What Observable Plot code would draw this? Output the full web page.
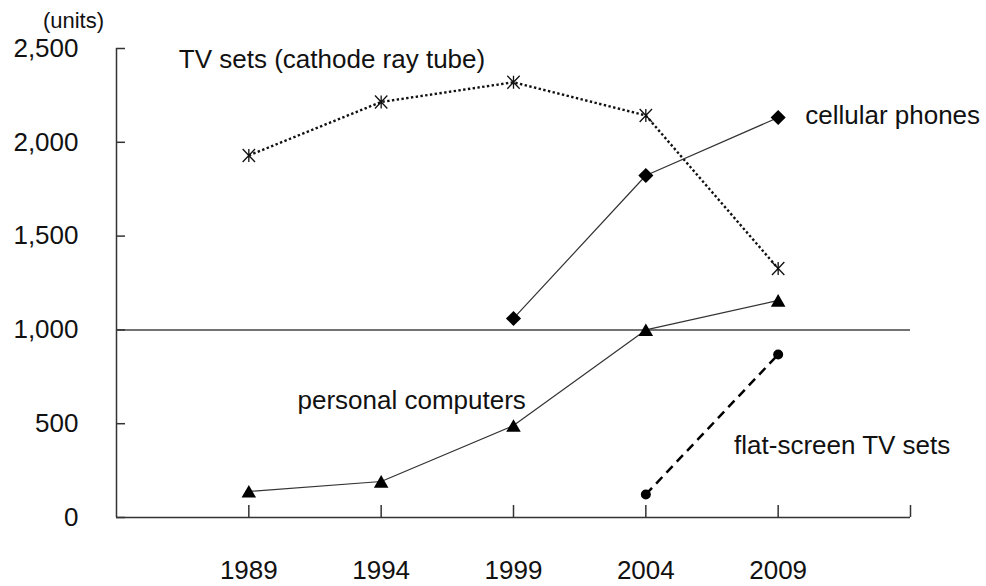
<!DOCTYPE html>
<html><head><meta charset="utf-8">
<script src="https://cdn.jsdelivr.net/npm/d3@7"></script>
<script src="https://cdn.jsdelivr.net/npm/@observablehq/plot@0.6"></script>
<style>html,body{margin:0;padding:0;background:#fff;}</style>
</head><body><div id="chart"></div>
<script>
// ---- data ----
const years = [1989, 1994, 1999, 2004, 2009];
const tvCRT = [1930, 2215, 2320, 2143, 1327];
const cellular = [null, null, 1061, 1823, 2132];
const pcs = [139, 192, 490, 1000, 1157];
const flatTV = [null, null, null, 123, 869];
const yTicks = [0, 500, 1000, 1500, 2000, 2500];
const xTickMarks = [1989, 1994, 1999, 2004, 2009, 2014];
const xDomain = [1984, 2014];
const yDomain = [0, 2500];
const referenceLevel = [1000];
const seriesNames = ["TV sets (cathode ray tube)", "cellular phones", "personal computers", "flat-screen TV sets"];
const unitLabel = "(units)";

const rows = vals => years.map((x, i) => ({x, y: vals[i]})).filter(d => d.y != null);
const tvRows = rows(tvCRT), cellRows = rows(cellular), pcRows = rows(pcs), flatRows = rows(flatTV);

// ---- layout ----
const W = 986, H = 586, mL = 116, mR = 76, mT = 48, mB = 69;
const plotW = W - mL - mR, plotH = H - mT - mB;
const ink = "#111";
const font = "'Liberation Sans', Arial, sans-serif";

// X with a vertical bar (Excel-style asterisk marker)
const asteriskX = {draw(ctx, size) {
  const r = Math.sqrt(size / Math.PI), a = r * 0.95;
  ctx.moveTo(-a, -r); ctx.lineTo(a, r);
  ctx.moveTo(a, -r); ctx.lineTo(-a, r);
  ctx.moveTo(0, -r); ctx.lineTo(0, r);
}};

const chart = Plot.plot({
  width: W, height: H,
  marginLeft: mL, marginRight: mR, marginTop: mT, marginBottom: mB,
  x: {domain: xDomain, axis: null},
  y: {domain: yDomain, axis: null},
  style: {fontFamily: font, background: "white", color: ink, overflow: "visible"},
  marks: [
    // axes
    Plot.ruleX([xDomain[0]], {stroke: "#333", strokeWidth: 1.5}),
    Plot.ruleY([yDomain[0]], {stroke: "#333", strokeWidth: 1.5}),
    Plot.ruleY(referenceLevel, {stroke: "#444", strokeWidth: 1.5}),
    Plot.tickY(yTicks, {y: d => d, insetRight: plotW - 9, stroke: "#333", strokeWidth: 1.5}),
    Plot.tickX(xTickMarks, {x: d => d, insetTop: plotH - 12, stroke: "#333", strokeWidth: 1.5}),
    Plot.axisY(yTicks, {tickSize: 0, tickPadding: 38, tickFormat: d3.format(","), fontSize: 26, label: null, fill: ink}),
    Plot.axisX(years, {tickSize: 0, tickPadding: 43, tickFormat: d => String(d), fontSize: 26, label: null, fill: ink}),
    Plot.text([unitLabel], {frameAnchor: "top-left", text: d => d, textAnchor: "middle", lineAnchor: "middle", dx: -43, dy: -28, fontSize: 22, fill: ink}),

    // series lines
    Plot.line(tvRows, {x: "x", y: "y", stroke: "#111", strokeWidth: 2.4, strokeDasharray: "2.4,2.4", strokeLinecap: "butt"}),
    Plot.line(cellRows, {x: "x", y: "y", stroke: "#333", strokeWidth: 1.2}),
    Plot.line(pcRows, {x: "x", y: "y", stroke: "#333", strokeWidth: 1.2}),
    Plot.line(flatRows, {x: "x", y: "y", stroke: "#000", strokeWidth: 2.5, strokeDasharray: "9,6", strokeLinecap: "butt"}),

    // markers
    Plot.dot(tvRows, {x: "x", y: "y", symbol: asteriskX, r: 6.5, fill: "none", stroke: ink, strokeWidth: 1.3}),
    Plot.dot(cellRows, {x: "x", y: "y", symbol: "diamond2", r: 6.8, fill: "#000", stroke: "none"}),
    Plot.dot(pcRows, {x: "x", y: "y", symbol: "triangle", r: 5.4, dy: 2, fill: "#000", stroke: "none"}),
    Plot.dot(flatRows, {x: "x", y: "y", symbol: "circle", r: 5, fill: "#000", stroke: "none"}),

    // series labels, anchored to points
    Plot.text([tvRows[0]], {x: "x", y: "y", text: () => seriesNames[0], textAnchor: "start", dx: -70, dy: -96, fontSize: 26, fill: ink}),
    Plot.text([cellRows[cellRows.length - 1]], {x: "x", y: "y", text: () => seriesNames[1], textAnchor: "start", dx: 27, dy: -2, fontSize: 26, fill: ink}),
    Plot.text([pcRows[2]], {x: "x", y: "y", text: () => seriesNames[2], textAnchor: "start", dx: -216, dy: -25, fontSize: 26, fill: ink}),
    Plot.text([flatRows[flatRows.length - 1]], {x: "x", y: "y", text: () => seriesNames[3], textAnchor: "middle", dx: 64, dy: 91, fontSize: 26, fill: ink})
  ]
});
document.getElementById("chart").appendChild(chart);
</script>
</body></html>
